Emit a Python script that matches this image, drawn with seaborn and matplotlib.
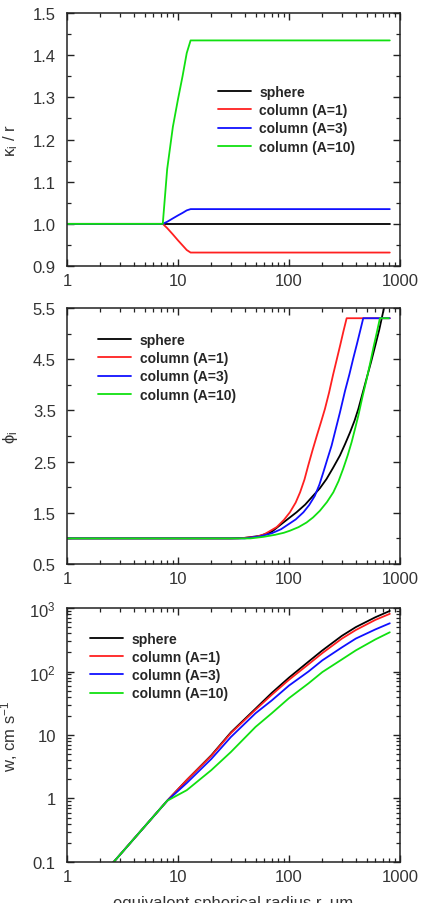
import numpy as np
import pandas as pd
import matplotlib
matplotlib.use("Agg")
import matplotlib.pyplot as plt
import matplotlib.ticker as mticker
import seaborn as sns

# ---- data ----
series = ['sphere', 'column (A=1)', 'column (A=3)', 'column (A=10)']
colors = ['black', '#ff2020', '#1010ff', '#10e010']

# panel 1: kappa_i / r
kap_r = [1, 7.3, 8, 9, 10, 11, 12, 13, 810]
kap_sphere = [1.0, 1.0, 1.0, 1.0, 1.0, 1.0, 1.0, 1.0, 1.0]
kap_a1 = [1.0, 1.0, 0.99, 0.975, 0.961, 0.949, 0.938, 0.932, 0.932]
kap_a3 = [1.0, 1.0, 1.005, 1.013, 1.02, 1.026, 1.032, 1.035, 1.035]
kap_a10 = [1.0, 1.0, 1.13, 1.23, 1.295, 1.35, 1.405, 1.435, 1.435]

# panel 2: phi_i (each series has its own breakpoints)
phi_r_sphere = [1, 30, 40, 55, 70, 89, 117, 140, 160, 190, 218, 250, 288, 320, 355, 390,
                422, 460, 500, 550, 600, 650, 684, 718, 760]
phi_sphere = [1.0, 1.0, 1.01, 1.05, 1.13, 1.31, 1.51, 1.66, 1.8, 1.98, 2.16, 2.38, 2.62,
              2.84, 3.07, 3.3, 3.53, 3.83, 4.12, 4.45, 4.77, 5.07, 5.29, 5.5, 5.85]
phi_r_a1 = [1, 35, 50, 60, 77.5, 90, 102, 115, 126, 138, 149, 163, 178, 195, 211,
            230, 250, 270, 290, 310, 331, 810]
phi_a1 = [1.0, 1.0, 1.03, 1.08, 1.22, 1.36, 1.51, 1.7, 1.9, 2.15, 2.42, 2.72, 3.0, 3.28,
          3.53, 3.85, 4.2, 4.5, 4.78, 5.05, 5.3, 5.3]
phi_r_a3 = [1, 40, 55, 70, 85, 95, 115, 135, 152, 171, 188, 204, 222, 242, 265, 288,
            320, 350, 380, 410, 440, 467, 810]
phi_a3 = [1.0, 1.0, 1.04, 1.1, 1.18, 1.25, 1.37, 1.51, 1.65, 1.83, 2.05, 2.29, 2.55, 2.81,
          3.15, 3.46, 3.88, 4.2, 4.52, 4.8, 5.07, 5.3, 5.3]
phi_r_a10 = [1, 45, 58.7, 75, 90, 102, 122, 144, 165, 190, 220, 251, 280, 308, 338, 367,
             395, 422, 460, 500, 540, 580, 620, 660, 795]
phi_a10 = [1.0, 1.0, 1.03, 1.07, 1.11, 1.15, 1.22, 1.31, 1.41, 1.54, 1.71, 1.9, 2.12,
           2.36, 2.62, 2.88, 3.15, 3.4, 3.77, 4.1, 4.43, 4.75, 5.03, 5.3, 5.3]

# panel 3: fall speed w, cm/s
w_r = [1, 2, 4, 8, 12, 20, 30, 50, 70, 100, 150, 200, 300, 400, 600, 810]
w_sphere = [0.0144, 0.0575, 0.23, 0.92, 1.95, 4.8, 11, 26, 46, 80, 143, 215, 365, 500, 715, 900]
w_a1 = [0.0144, 0.0575, 0.23, 0.92, 1.95, 4.7, 10.7, 25, 43, 74, 130, 195, 330, 450, 650, 810]
w_a3 = [0.0144, 0.0575, 0.23, 0.92, 1.75, 4.2, 9.3, 22, 35, 60, 100, 150, 240, 330, 460, 575]
w_a10 = [0.0144, 0.0575, 0.23, 0.92, 1.35, 2.8, 5.4, 13.4, 22, 38, 65, 98, 155, 215, 320, 415]


def long_frame(pairs):
    rows = []
    for name, (xs, ys) in zip(series, pairs):
        rows.append(pd.DataFrame({'r': xs, 'v': ys, 'kind': name}))
    return pd.concat(rows, ignore_index=True)


df_kap = long_frame([(kap_r, kap_sphere), (kap_r, kap_a1), (kap_r, kap_a3), (kap_r, kap_a10)])
df_phi = long_frame([(phi_r_sphere, phi_sphere), (phi_r_a1, phi_a1),
                     (phi_r_a3, phi_a3), (phi_r_a10, phi_a10)])
df_w = long_frame([(w_r, w_sphere), (w_r, w_a1), (w_r, w_a3), (w_r, w_a10)])

sns.set_style('ticks')
plt.rcParams['font.family'] = ['Liberation Sans', 'DejaVu Sans']
plt.rcParams['mathtext.fontset'] = 'custom'
plt.rcParams['mathtext.rm'] = 'Liberation Sans'
plt.rcParams['mathtext.it'] = 'Liberation Sans:italic'
plt.rcParams['mathtext.default'] = 'regular'

fig = plt.figure(figsize=(4.21, 9.04), dpi=100, facecolor='white')
ax1 = fig.add_axes([0.159, 0.7046, 0.791, 0.2799])
ax2 = fig.add_axes([0.159, 0.375, 0.791, 0.2832])
ax3 = fig.add_axes([0.159, 0.0454, 0.791, 0.2809])

palette = dict(zip(series, colors))
for ax, df in [(ax1, df_kap), (ax2, df_phi), (ax3, df_w)]:
    sns.lineplot(data=df, x='r', y='v', hue='kind', hue_order=series, palette=palette,
                 estimator=None, sort=True, linewidth=1.3, ax=ax)
    ax.set_xscale('log')
    ax.set_xlim(1, 1000)
    ax.set_xticks([1, 10, 100, 1000], labels=['1', '10', '100', '1000'])
    ax.xaxis.set_minor_locator(mticker.LogLocator(base=10, subs=np.arange(2, 10)))
    ax.xaxis.set_minor_formatter(mticker.NullFormatter())
    ax.tick_params(which='both', direction='in', top=True, right=True, colors='#222222',
                   labelcolor='#333333', labelsize=12)
    ax.tick_params(which='major', length=5, width=1.0)
    ax.tick_params(which='minor', length=3, width=0.9)
    ax.tick_params(axis='y', which='major', pad=8)
    ax.tick_params(axis='x', which='major', pad=5)
    for sp in ax.spines.values():
        sp.set_color('#222222')
        sp.set_linewidth(1.1)
    ax.set_xlabel('')

# panel 1
ax1.set_ylim(0.9, 1.5)
ax1.set_yticks([0.9, 1.0, 1.1, 1.2, 1.3, 1.4, 1.5])
ax1.yaxis.set_major_formatter(mticker.FormatStrFormatter('%.1f'))
ax1.yaxis.set_minor_locator(mticker.MultipleLocator(0.05))
ax1.set_ylabel('κ$_{i}$ / r', fontsize=12, color='#333333')

# panel 2
ax2.set_ylim(0.5, 5.5)
ax2.set_yticks([0.5, 1.5, 2.5, 3.5, 4.5, 5.5])
ax2.yaxis.set_major_formatter(mticker.FormatStrFormatter('%.1f'))
ax2.yaxis.set_minor_locator(mticker.FixedLocator([1, 2, 3, 4, 5]))
ax2.set_ylabel('ϕ$_{i}$', fontsize=12, color='#333333')

# panel 3
ax3.set_yscale('log')
ax3.set_ylim(0.1, 1000)
ax3.set_yticks([0.1, 1, 10, 100, 1000], labels=['0.1', '1', '10', '10$^{2}$', '10$^{3}$'])
ax3.yaxis.set_minor_locator(mticker.LogLocator(base=10, subs=np.arange(2, 10)))
ax3.yaxis.set_minor_formatter(mticker.NullFormatter())
ax3.set_ylabel('w, cm s$^{-1}$', fontsize=12, color='#333333')
ax3.set_xlabel('equivalent spherical radius r, μm', fontsize=12, color='#333333', labelpad=8)

for ax in (ax1, ax2, ax3):
    ax.yaxis.set_label_coords(-0.14, 0.5)

legend_spots = [(ax1, (0.453, 0.715)), (ax2, (0.093, 0.902)), (ax3, (0.069, 0.906))]
for ax, anchor in legend_spots:
    ax.legend(loc='upper left', bbox_to_anchor=anchor, frameon=False, borderpad=0,
              borderaxespad=0, handlelength=2.4, handletextpad=0.6, labelspacing=0.3,
              prop={'weight': 'bold', 'size': 10})

fig.savefig('out.png', dpi=100, facecolor='white')
